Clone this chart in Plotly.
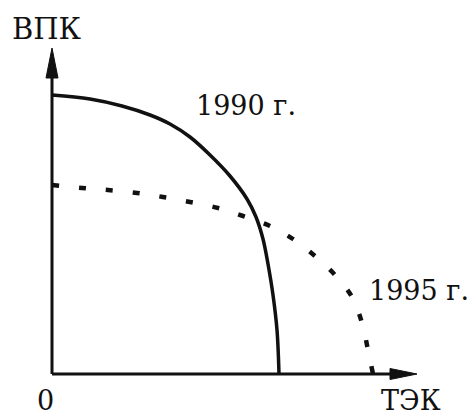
import plotly.graph_objects as go

# Production possibility frontiers (units: chart units, origin at 0)
x_1990 = [0, 38, 70, 98, 118, 138, 158, 178, 195, 204, 211, 216, 221, 225, 227]
y_1990 = [279, 275, 268, 259, 250, 237, 219, 198, 175, 157, 135, 110, 79, 44, 0]

x_1995 = [0, 30, 56, 85, 111, 138, 166, 191, 218, 241, 263, 283, 300, 310, 316, 321]
y_1995 = [189, 186, 184, 181, 177, 172, 166, 158, 148, 135, 118, 99, 77, 51, 24, 0]

label_1990 = "1990 г."
label_1995 = "1995 г."
y_title = "ВПК"
x_title = "ТЭК"
origin_label = "0"

FONT = "DejaVu Serif"
INK = "#111111"

fig = go.Figure()
fig.add_trace(go.Scatter(x=x_1990, y=y_1990, mode="lines",
                         line=dict(color=INK, width=3.5, shape="spline", smoothing=1.0),
                         hoverinfo="skip", showlegend=False))
fig.add_trace(go.Scatter(x=x_1995, y=y_1995, mode="lines",
                         line=dict(color=INK, width=4.5, shape="spline", smoothing=1.0,
                                   dash="7px,20px"),
                         hoverinfo="skip", showlegend=False))

shapes = [
    # y axis
    dict(type="line", x0=0, y0=0, x1=0, y1=300, line=dict(color=INK, width=3)),
    dict(type="path", path="M -6 296 L 6 296 L 0 326 Z", fillcolor=INK, line=dict(color=INK, width=1)),
    # x axis
    dict(type="line", x0=0, y0=0, x1=342, y1=0, line=dict(color=INK, width=3)),
    dict(type="path", path="M 338 -5.5 L 338 5.5 L 365 0 Z", fillcolor=INK, line=dict(color=INK, width=1)),
]
for s in shapes:
    s.update(xref="x", yref="y", layer="above")

def ann(text, x, y, size=27):
    return dict(text=text, x=x, y=y, xref="x", yref="y", showarrow=False,
                font=dict(family=FONT, size=size, color=INK), xanchor="center", yanchor="middle")

annotations = [
    ann(y_title, -5, 345, 29),
    ann(label_1990, 194, 269),
    ann(label_1995, 367, 84),
    ann(origin_label, -7, -26),
    ann(x_title, 359, -26),
]

fig.update_layout(
    width=473, height=417,
    margin=dict(l=0, r=0, t=0, b=0),
    paper_bgcolor="white", plot_bgcolor="white",
    xaxis=dict(range=[-52, 421], visible=False, fixedrange=True),
    yaxis=dict(range=[-43, 374], visible=False, fixedrange=True),
    shapes=shapes, annotations=annotations,
    showlegend=False,
)
fig.write_html("out.html", config={"displayModeBar": False},
               post_script="document.body.style.margin='0';document.body.style.overflow='hidden';")
